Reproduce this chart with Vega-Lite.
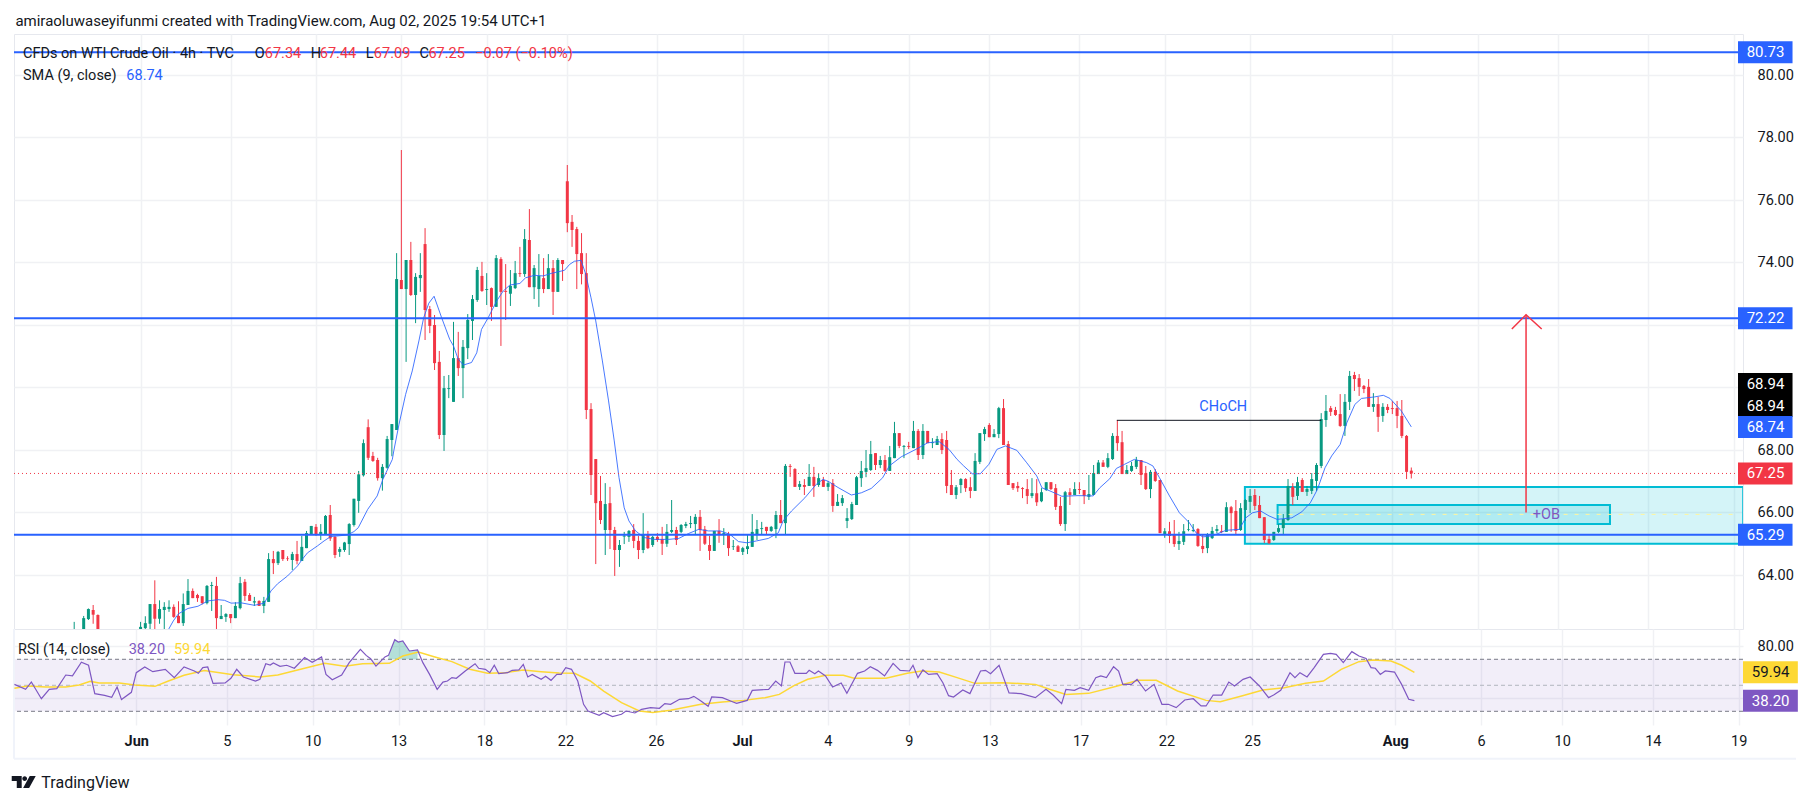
{
"$schema":"https://vega.github.io/schema/vega-lite/v6.json",
"background":"white",
"padding":{"left":11,"top":13,"right":5,"bottom":5},
"spacing":0,
"bounds":"flush",
"config":{"font":"Roboto","view":{"stroke":null},"axis":{"labelFont":"Roboto","labelFontSize":14.5,"labelColor":"#131722","gridColor":"#f0f1f4","gridWidth":1.5}},
"datasets":{
"bars":[
{"i":0,"o":61.6,"h":62.5,"l":61.4,"c":62.0},
{"i":2,"o":61.9,"h":62.69,"l":61.7,"c":62.62},
{"i":3,"o":62.59,"h":62.93,"l":62.56,"c":62.91},
{"i":4,"o":62.88,"h":63.04,"l":62.44,"c":62.73},
{"i":5,"o":62.72,"h":62.74,"l":62,"c":62.2},
{"i":14,"o":62.25,"h":62.5,"l":62.1,"c":62.34},
{"i":15,"o":62.3,"h":62.68,"l":62.2,"c":62.46},
{"i":16,"o":62.44,"h":63.07,"l":62.25,"c":63.07},
{"i":17,"o":63.07,"h":63.83,"l":62.2,"c":62.6},
{"i":18,"o":62.6,"h":63.19,"l":62.44,"c":62.91},
{"i":19,"o":62.88,"h":63.13,"l":62.2,"c":62.98},
{"i":20,"o":62.91,"h":63.19,"l":62.82,"c":62.98},
{"i":21,"o":62.98,"h":63.06,"l":62.63,"c":62.66},
{"i":22,"o":62.69,"h":63.16,"l":62.46,"c":62.46},
{"i":23,"o":62.46,"h":63.41,"l":62.37,"c":63.07},
{"i":24,"o":63.04,"h":63.87,"l":63.04,"c":63.49},
{"i":25,"o":63.49,"h":63.57,"l":63.26,"c":63.26},
{"i":26,"o":63.36,"h":63.4,"l":63.14,"c":63.26},
{"i":27,"o":63.32,"h":63.32,"l":63.06,"c":63.1},
{"i":28,"o":63.1,"h":63.68,"l":63.06,"c":63.65},
{"i":29,"o":63.65,"h":63.78,"l":62.85,"c":63.68},
{"i":30,"o":63.65,"h":63.94,"l":62.26,"c":62.62},
{"i":31,"o":62.59,"h":63.04,"l":62.59,"c":62.69},
{"i":32,"o":62.66,"h":62.78,"l":62.5,"c":62.75},
{"i":33,"o":62.75,"h":62.75,"l":62.46,"c":62.62},
{"i":34,"o":62.62,"h":63.13,"l":62.62,"c":63.01},
{"i":35,"o":62.94,"h":63.94,"l":62.9,"c":63.74},
{"i":36,"o":63.78,"h":63.87,"l":63.17,"c":63.33},
{"i":37,"o":63.36,"h":63.42,"l":63.17,"c":63.17},
{"i":38,"o":63.12,"h":63.3,"l":63.01,"c":63.16},
{"i":39,"o":63.17,"h":63.19,"l":63.01,"c":63.01},
{"i":40,"o":63.01,"h":63.3,"l":62.78,"c":63.17},
{"i":41,"o":63.14,"h":64.7,"l":63.14,"c":64.51},
{"i":42,"o":64.51,"h":64.77,"l":64.03,"c":64.38},
{"i":43,"o":64.38,"h":64.77,"l":64.32,"c":64.74},
{"i":44,"o":64.8,"h":64.8,"l":64.45,"c":64.51},
{"i":45,"o":64.53,"h":64.6,"l":64.45,"c":64.51},
{"i":46,"o":64.48,"h":64.74,"l":64.16,"c":64.67},
{"i":47,"o":64.67,"h":65.09,"l":64.34,"c":64.45},
{"i":48,"o":64.45,"h":65.25,"l":64.45,"c":64.9},
{"i":49,"o":64.86,"h":65.41,"l":64.86,"c":65.34},
{"i":50,"o":65.31,"h":65.57,"l":65.31,"c":65.57},
{"i":51,"o":65.54,"h":65.63,"l":65.25,"c":65.31},
{"i":52,"o":65.31,"h":65.63,"l":65.12,"c":65.38},
{"i":53,"o":65.31,"h":65.92,"l":65.31,"c":65.89},
{"i":54,"o":65.92,"h":66.24,"l":65.09,"c":65.17},
{"i":55,"o":65.22,"h":65.25,"l":64.54,"c":64.64},
{"i":56,"o":64.74,"h":64.9,"l":64.58,"c":64.83},
{"i":57,"o":64.8,"h":65.06,"l":64.74,"c":65.04},
{"i":58,"o":64.99,"h":65.66,"l":64.64,"c":65.63},
{"i":59,"o":65.6,"h":66.44,"l":65.55,"c":66.44},
{"i":60,"o":66.37,"h":67.33,"l":65.99,"c":67.22},
{"i":61,"o":67.19,"h":68.34,"l":67.15,"c":68.22},
{"i":62,"o":68.73,"h":68.98,"l":67.68,"c":67.75},
{"i":63,"o":67.81,"h":67.94,"l":67.62,"c":67.65},
{"i":64,"o":67.68,"h":67.75,"l":67.02,"c":67.1},
{"i":65,"o":67.1,"h":67.55,"l":66.7,"c":67.46},
{"i":66,"o":67.43,"h":68.45,"l":67.4,"c":68.35},
{"i":67,"o":68.32,"h":68.83,"l":67.8,"c":68.83},
{"i":68,"o":68.64,"h":74.3,"l":68.64,"c":73.47},
{"i":69,"o":73.44,"h":77.6,"l":73.15,"c":73.15},
{"i":70,"o":73.15,"h":74.08,"l":70.82,"c":74.08},
{"i":71,"o":74.08,"h":74.66,"l":72.93,"c":72.96},
{"i":72,"o":72.96,"h":73.66,"l":72.06,"c":73.54},
{"i":73,"o":73.5,"h":74.3,"l":73.06,"c":73.6},
{"i":74,"o":74.59,"h":75.1,"l":71.52,"c":72.48},
{"i":75,"o":72.51,"h":72.61,"l":71.74,"c":71.97},
{"i":76,"o":72,"h":72.32,"l":70.56,"c":70.78},
{"i":77,"o":70.82,"h":71.17,"l":68.35,"c":68.48},
{"i":78,"o":68.48,"h":70.37,"l":67.97,"c":69.98},
{"i":79,"o":69.95,"h":70.4,"l":69.66,"c":69.98},
{"i":80,"o":69.54,"h":72.1,"l":69.54,"c":70.94},
{"i":81,"o":70.94,"h":71.78,"l":70.37,"c":70.62},
{"i":82,"o":70.62,"h":71.52,"l":69.66,"c":71.3},
{"i":83,"o":71.26,"h":72.35,"l":70.91,"c":72.16},
{"i":84,"o":72.13,"h":72.96,"l":71.52,"c":72.83},
{"i":85,"o":72.8,"h":73.86,"l":72.74,"c":73.76},
{"i":86,"o":73.57,"h":74.02,"l":73.06,"c":73.09},
{"i":87,"o":73.12,"h":73.66,"l":72.64,"c":73.15},
{"i":88,"o":73.18,"h":73.2,"l":72.13,"c":72.58},
{"i":89,"o":72.58,"h":74.24,"l":72.58,"c":74.14},
{"i":90,"o":74.11,"h":74.17,"l":71.33,"c":73.06},
{"i":91,"o":73.09,"h":73.95,"l":72.16,"c":73.06},
{"i":92,"o":73,"h":73.76,"l":72.61,"c":73.25},
{"i":93,"o":73.18,"h":74.05,"l":73.15,"c":73.66},
{"i":94,"o":73.66,"h":74.5,"l":73.54,"c":73.63},
{"i":95,"o":73.63,"h":75.07,"l":73.54,"c":74.75},
{"i":96,"o":74.72,"h":75.71,"l":73.21,"c":73.21},
{"i":97,"o":73.21,"h":73.92,"l":72.83,"c":73.82},
{"i":98,"o":73.15,"h":74.27,"l":72.58,"c":73.57},
{"i":99,"o":73.5,"h":74.14,"l":73.02,"c":73.15},
{"i":100,"o":73.15,"h":74.27,"l":73.15,"c":73.82},
{"i":101,"o":73.82,"h":74.08,"l":72.32,"c":73.06},
{"i":102,"o":73.06,"h":74.14,"l":73.06,"c":74.08},
{"i":103,"o":74.08,"h":74.08,"l":73.41,"c":73.95},
{"i":104,"o":76.6,"h":77.12,"l":74.97,"c":75.26},
{"i":105,"o":75.3,"h":75.52,"l":74.5,"c":75.04},
{"i":106,"o":75.07,"h":75.14,"l":73.15,"c":74.27},
{"i":107,"o":74.3,"h":74.94,"l":73.3,"c":73.63},
{"i":108,"o":73.66,"h":74.3,"l":68.99,"c":69.28},
{"i":109,"o":69.31,"h":69.5,"l":66.56,"c":67.2},
{"i":110,"o":67.71,"h":67.71,"l":64.35,"c":66.3},
{"i":111,"o":66.37,"h":67.17,"l":65.63,"c":65.76},
{"i":112,"o":65.44,"h":66.94,"l":64.64,"c":66.27},
{"i":113,"o":66.3,"h":66.82,"l":64.83,"c":65.44},
{"i":114,"o":65.44,"h":65.54,"l":63.97,"c":64.8},
{"i":115,"o":64.8,"h":65.12,"l":64.26,"c":64.96},
{"i":116,"o":65.23,"h":65.38,"l":64.99,"c":65.26},
{"i":117,"o":65.22,"h":65.44,"l":65.06,"c":65.41},
{"i":118,"o":65.44,"h":65.63,"l":64.86,"c":65.09},
{"i":119,"o":65.09,"h":65.25,"l":64.51,"c":64.8},
{"i":120,"o":64.8,"h":65.98,"l":64.7,"c":65.28},
{"i":121,"o":65.28,"h":65.41,"l":64.83,"c":64.86},
{"i":122,"o":64.96,"h":65.25,"l":64.9,"c":65.22},
{"i":123,"o":65.22,"h":65.34,"l":65.06,"c":65.12},
{"i":124,"o":65.15,"h":65.54,"l":64.64,"c":65},
{"i":125,"o":65,"h":65.63,"l":64.9,"c":65.38},
{"i":126,"o":65.38,"h":66.4,"l":65.34,"c":65.44},
{"i":127,"o":65.44,"h":65.54,"l":64.96,"c":65.12},
{"i":128,"o":65.38,"h":65.63,"l":65.34,"c":65.6},
{"i":129,"o":65.57,"h":65.7,"l":65.5,"c":65.63},
{"i":130,"o":65.63,"h":65.89,"l":65.5,"c":65.66},
{"i":131,"o":65.63,"h":65.95,"l":65.31,"c":65.86},
{"i":132,"o":65.86,"h":66.08,"l":64.77,"c":65.44},
{"i":133,"o":65.46,"h":65.57,"l":64.96,"c":65},
{"i":134,"o":64.96,"h":65.25,"l":64.48,"c":64.77},
{"i":135,"o":64.77,"h":65.41,"l":64.77,"c":65.41},
{"i":136,"o":65.41,"h":65.79,"l":65.03,"c":65.28},
{"i":137,"o":65.31,"h":65.5,"l":64.96,"c":65.34},
{"i":138,"o":65.31,"h":65.38,"l":64.61,"c":64.86},
{"i":139,"o":64.9,"h":65.12,"l":64.8,"c":64.92},
{"i":140,"o":64.92,"h":64.96,"l":64.74,"c":64.74},
{"i":141,"o":64.74,"h":64.9,"l":64.64,"c":64.86},
{"i":142,"o":64.83,"h":65.28,"l":64.67,"c":64.92},
{"i":143,"o":64.9,"h":65.95,"l":64.9,"c":65.38},
{"i":144,"o":65.28,"h":65.76,"l":65.12,"c":65.47},
{"i":145,"o":65.47,"h":65.7,"l":65.28,"c":65.5},
{"i":146,"o":65.54,"h":65.54,"l":65.31,"c":65.41},
{"i":147,"o":65.41,"h":65.57,"l":65.38,"c":65.54},
{"i":148,"o":65.47,"h":66.05,"l":65.18,"c":65.92},
{"i":149,"o":65.92,"h":66.4,"l":65.66,"c":65.66},
{"i":150,"o":65.66,"h":67.55,"l":65.31,"c":67.49},
{"i":151,"o":67.49,"h":67.55,"l":67.14,"c":67.46},
{"i":152,"o":67.39,"h":67.42,"l":66.82,"c":66.82},
{"i":153,"o":66.82,"h":67.01,"l":66.72,"c":66.91},
{"i":154,"o":66.88,"h":67.07,"l":66.56,"c":66.82},
{"i":155,"o":66.85,"h":67.55,"l":66.85,"c":67.14},
{"i":156,"o":67.14,"h":67.46,"l":66.5,"c":66.85},
{"i":157,"o":66.88,"h":67.26,"l":66.82,"c":67.1},
{"i":158,"o":67.04,"h":67.14,"l":66.82,"c":66.82},
{"i":159,"o":66.82,"h":67.01,"l":66.69,"c":66.94},
{"i":160,"o":66.94,"h":67.07,"l":66.02,"c":66.21},
{"i":161,"o":66.21,"h":66.59,"l":66.21,"c":66.34},
{"i":162,"o":66.3,"h":66.56,"l":66.21,"c":66.46},
{"i":163,"o":65.73,"h":66.14,"l":65.5,"c":65.82},
{"i":164,"o":65.79,"h":66.34,"l":65.76,"c":66.27},
{"i":165,"o":66.24,"h":67.17,"l":66.24,"c":67.13},
{"i":166,"o":67.1,"h":67.65,"l":66.82,"c":67.33},
{"i":167,"o":67.3,"h":68,"l":67.13,"c":67.42},
{"i":168,"o":67.36,"h":68.29,"l":67.33,"c":67.87},
{"i":169,"o":67.9,"h":67.9,"l":67.36,"c":67.52},
{"i":170,"o":67.52,"h":67.81,"l":67.42,"c":67.68},
{"i":171,"o":67.68,"h":67.84,"l":67.3,"c":67.33},
{"i":172,"o":67.33,"h":68.13,"l":67.33,"c":67.77},
{"i":173,"o":67.74,"h":68.9,"l":67.74,"c":68.54},
{"i":174,"o":68.54,"h":68.54,"l":68.06,"c":68.13},
{"i":175,"o":68.1,"h":68.16,"l":67.74,"c":68.13},
{"i":176,"o":68.13,"h":68.26,"l":68.03,"c":68.1},
{"i":177,"o":68.06,"h":68.93,"l":68.06,"c":68.61},
{"i":178,"o":68.61,"h":68.67,"l":67.68,"c":67.84},
{"i":179,"o":67.84,"h":68.83,"l":67.71,"c":68.61},
{"i":180,"o":68.61,"h":68.61,"l":68.22,"c":68.22},
{"i":181,"o":68.22,"h":68.38,"l":68.06,"c":68.25},
{"i":182,"o":68.16,"h":68.45,"l":68.16,"c":68.35},
{"i":183,"o":68.35,"h":68.54,"l":67.87,"c":68},
{"i":184,"o":68.32,"h":68.61,"l":66.62,"c":66.85},
{"i":185,"o":66.88,"h":67.36,"l":66.56,"c":66.56},
{"i":186,"o":66.56,"h":66.88,"l":66.43,"c":66.81},
{"i":187,"o":66.88,"h":67.1,"l":66.62,"c":67.07},
{"i":188,"o":67.07,"h":67.1,"l":66.66,"c":66.78},
{"i":189,"o":66.81,"h":67.13,"l":66.46,"c":66.69},
{"i":190,"o":66.69,"h":67.9,"l":66.69,"c":67.65},
{"i":191,"o":67.62,"h":68.54,"l":67.55,"c":68.54},
{"i":192,"o":68.51,"h":68.74,"l":68.29,"c":68.67},
{"i":193,"o":68.8,"h":68.86,"l":68.41,"c":68.41},
{"i":194,"o":68.41,"h":68.67,"l":68.41,"c":68.51},
{"i":195,"o":68.51,"h":69.38,"l":68.38,"c":69.34},
{"i":196,"o":69.34,"h":69.63,"l":68.16,"c":68.16},
{"i":197,"o":68.19,"h":68.29,"l":66.88,"c":66.88},
{"i":198,"o":66.94,"h":66.94,"l":66.72,"c":66.78},
{"i":199,"o":66.85,"h":66.98,"l":66.66,"c":66.78},
{"i":200,"o":66.78,"h":66.81,"l":66.46,"c":66.75},
{"i":201,"o":66.75,"h":67.07,"l":66.27,"c":66.53},
{"i":202,"o":66.53,"h":67.1,"l":66.46,"c":66.62},
{"i":203,"o":66.62,"h":67.07,"l":66.21,"c":66.33},
{"i":204,"o":66.36,"h":66.78,"l":66.33,"c":66.65},
{"i":205,"o":66.72,"h":66.97,"l":66.69,"c":66.97},
{"i":206,"o":66.97,"h":66.97,"l":66.72,"c":66.75},
{"i":207,"o":66.78,"h":66.91,"l":66.08,"c":66.18},
{"i":208,"o":66.21,"h":66.5,"l":65.57,"c":65.63},
{"i":209,"o":65.63,"h":66.69,"l":65.41,"c":66.65},
{"i":210,"o":66.65,"h":66.78,"l":66.24,"c":66.56},
{"i":211,"o":66.56,"h":66.97,"l":66.56,"c":66.75},
{"i":212,"o":66.75,"h":66.97,"l":66.59,"c":66.72},
{"i":213,"o":66.72,"h":66.72,"l":66.27,"c":66.53},
{"i":214,"o":66.5,"h":67.2,"l":66.4,"c":66.59},
{"i":215,"o":66.56,"h":67.52,"l":66.56,"c":67.26},
{"i":216,"o":67.23,"h":67.68,"l":67.23,"c":67.6},
{"i":217,"o":67.6,"h":67.68,"l":67.46,"c":67.46},
{"i":218,"o":67.46,"h":67.9,"l":67.42,"c":67.74},
{"i":219,"o":67.71,"h":68.54,"l":67.68,"c":68.45},
{"i":220,"o":68.45,"h":68.96,"l":67.97,"c":68.22},
{"i":221,"o":68.25,"h":68.61,"l":67.23,"c":67.23},
{"i":222,"o":67.23,"h":67.52,"l":67.23,"c":67.36},
{"i":223,"o":67.33,"h":67.62,"l":67.3,"c":67.49},
{"i":224,"o":67.46,"h":67.78,"l":67.39,"c":67.68},
{"i":225,"o":67.68,"h":67.68,"l":66.88,"c":67.2},
{"i":226,"o":67.26,"h":67.49,"l":66.72,"c":66.75},
{"i":227,"o":66.75,"h":67.36,"l":66.46,"c":67.3},
{"i":228,"o":67.3,"h":67.39,"l":66.98,"c":67.01},
{"i":229,"o":67.04,"h":67.04,"l":65.34,"c":65.34},
{"i":230,"o":65.31,"h":65.5,"l":65.19,"c":65.4},
{"i":231,"o":65.4,"h":65.7,"l":65.02,"c":65.25},
{"i":232,"o":65.28,"h":65.76,"l":64.9,"c":64.99},
{"i":233,"o":64.99,"h":65.38,"l":64.8,"c":65.09},
{"i":234,"o":65.06,"h":65.63,"l":64.96,"c":65.4},
{"i":235,"o":65.44,"h":65.76,"l":65.4,"c":65.46},
{"i":236,"o":65.41,"h":65.63,"l":65.37,"c":65.44},
{"i":237,"o":65.47,"h":65.5,"l":64.9,"c":64.93},
{"i":238,"o":64.93,"h":65.28,"l":64.7,"c":64.83},
{"i":239,"o":64.86,"h":65.34,"l":64.7,"c":65.31},
{"i":240,"o":65.18,"h":65.54,"l":65.15,"c":65.41},
{"i":241,"o":65.41,"h":65.6,"l":65.34,"c":65.47},
{"i":242,"o":65.41,"h":65.6,"l":65.34,"c":65.38},
{"i":243,"o":65.38,"h":66.33,"l":65.38,"c":66.17},
{"i":244,"o":66.17,"h":66.21,"l":65.38,"c":65.98},
{"i":245,"o":66.05,"h":66.4,"l":65.28,"c":65.41},
{"i":246,"o":65.44,"h":66.3,"l":65.41,"c":66.14},
{"i":247,"o":66.08,"h":66.43,"l":65.73,"c":66.4},
{"i":248,"o":66.34,"h":66.75,"l":65.98,"c":66.53},
{"i":249,"o":66.56,"h":66.75,"l":66.08,"c":66.21},
{"i":250,"o":66.24,"h":66.53,"l":65.82,"c":65.82},
{"i":251,"o":65.85,"h":65.85,"l":65.02,"c":65.12},
{"i":252,"o":65.15,"h":65.28,"l":64.99,"c":65.02},
{"i":253,"o":65.12,"h":65.38,"l":65.09,"c":65.38},
{"i":254,"o":65.38,"h":65.63,"l":65.34,"c":65.5},
{"i":255,"o":65.5,"h":65.95,"l":65.28,"c":65.79},
{"i":256,"o":65.76,"h":67.07,"l":65.73,"c":66.85},
{"i":257,"o":66.82,"h":66.94,"l":66.24,"c":66.5},
{"i":258,"o":66.53,"h":67.14,"l":66.4,"c":66.97},
{"i":259,"o":67.04,"h":67.1,"l":66.66,"c":66.66},
{"i":260,"o":66.66,"h":66.85,"l":66.53,"c":66.75},
{"i":261,"o":66.69,"h":67.26,"l":66.59,"c":67.07},
{"i":262,"o":67.01,"h":67.58,"l":66.69,"c":67.52},
{"i":263,"o":67.49,"h":69.18,"l":67.42,"c":68.99},
{"i":264,"o":68.96,"h":69.76,"l":68.74,"c":69.25},
{"i":265,"o":69.34,"h":69.41,"l":69.09,"c":69.22},
{"i":266,"o":69.28,"h":69.38,"l":69.09,"c":69.12},
{"i":267,"o":69.15,"h":69.79,"l":68.74,"c":68.77},
{"i":268,"o":68.77,"h":69.79,"l":68.45,"c":69.54},
{"i":269,"o":69.54,"h":70.53,"l":69.28,"c":70.37},
{"i":270,"o":70.4,"h":70.5,"l":69.89,"c":70.27},
{"i":271,"o":70.3,"h":70.43,"l":69.73,"c":70.02},
{"i":272,"o":70.05,"h":70.08,"l":69.82,"c":69.95},
{"i":273,"o":70.02,"h":70.27,"l":69.38,"c":69.38},
{"i":274,"o":69.38,"h":69.82,"l":69.22,"c":69.47},
{"i":275,"o":69.47,"h":69.7,"l":68.58,"c":69.06},
{"i":276,"o":69.09,"h":69.5,"l":68.9,"c":69.38},
{"i":277,"o":69.38,"h":69.47,"l":69.18,"c":69.28},
{"i":278,"o":69.34,"h":69.57,"l":69.15,"c":69.31},
{"i":279,"o":69.34,"h":69.57,"l":68.7,"c":69.09},
{"i":280,"o":69.09,"h":69.6,"l":68.38,"c":68.45},
{"i":281,"o":68.45,"h":68.48,"l":67.07,"c":67.3},
{"i":282,"o":67.34,"h":67.44,"l":67.09,"c":67.25}
],
"sma":[
{"i":19.9,"v":62.26},{"i":20.9,"v":62.53},{"i":22,"v":62.76},{"i":24,"v":62.93},{"i":26.1,"v":63},{"i":28.2,"v":63.17},{"i":30.3,"v":63.21},{"i":31.7,"v":63.19},{"i":33.1,"v":63.1},{"i":35.2,"v":63.11},{"i":38,"v":63.03},{"i":40.1,"v":63.1},{"i":41.5,"v":63.49},{"i":42.9,"v":63.72},{"i":45,"v":63.97},{"i":47.1,"v":64.29},{"i":48.1,"v":64.5},{"i":49.2,"v":64.71},{"i":51.3,"v":64.93},{"i":52.7,"v":65.09},{"i":54.1,"v":65.23},{"i":57.6,"v":65.28},{"i":59,"v":65.39},{"i":59.9,"v":65.51},{"i":61.9,"v":66.1},{"i":63.9,"v":66.53},{"i":65.1,"v":67.06},{"i":67.1,"v":67.7},{"i":67.4,"v":67.97},{"i":68.5,"v":68.82},{"i":69.9,"v":69.78},{"i":71.3,"v":70.53},{"i":72.7,"v":71.49},{"i":73.7,"v":72.23},{"i":74.8,"v":72.7},{"i":75.9,"v":72.92},{"i":77.5,"v":72.23},{"i":79.2,"v":71.54},{"i":80,"v":71.33},{"i":81,"v":70.9},{"i":82.1,"v":70.72},{"i":83.8,"v":70.8},{"i":84.9,"v":71.11},{"i":85.9,"v":71.86},{"i":87.3,"v":72.23},{"i":89.1,"v":72.77},{"i":90.5,"v":73.09},{"i":91.9,"v":73.28},{"i":94,"v":73.33},{"i":95.2,"v":73.51},{"i":97.1,"v":73.59},{"i":98.9,"v":73.57},{"i":100.6,"v":73.65},{"i":103.4,"v":73.75},{"i":104.5,"v":73.94},{"i":105.5,"v":74.04},{"i":106.9,"v":74.07},{"i":107.9,"v":73.62},{"i":109,"v":72.87},{"i":110,"v":72.13},{"i":111.4,"v":70.85},{"i":112.7,"v":69.57},{"i":113.9,"v":68.29},{"i":114.9,"v":67.12},{"i":116,"v":66.15},{"i":117,"v":65.73},{"i":118.4,"v":65.41},{"i":120.2,"v":65.2},{"i":122.3,"v":65.14},{"i":125.4,"v":65.14},{"i":127.5,"v":65.17},{"i":129.6,"v":65.33},{"i":131.7,"v":65.46},{"i":133.8,"v":65.41},{"i":136.3,"v":65.41},{"i":138.3,"v":65.3},{"i":140.1,"v":65.07},{"i":141.9,"v":65.03},{"i":143.9,"v":65.09},{"i":146.4,"v":65.17},{"i":148.5,"v":65.35},{"i":149.5,"v":65.73},{"i":151.3,"v":66.05},{"i":154.1,"v":66.47},{"i":156.5,"v":66.9},{"i":157.9,"v":67.06},{"i":159,"v":67},{"i":161.1,"v":66.8},{"i":163.9,"v":66.56},{"i":166,"v":66.63},{"i":168.1,"v":66.77},{"i":170.5,"v":67.11},{"i":171.9,"v":67.49},{"i":174.4,"v":67.78},{"i":177.5,"v":68.02},{"i":180,"v":68.23},{"i":182.4,"v":68.27},{"i":184.5,"v":68.02},{"i":186.2,"v":67.7},{"i":187.6,"v":67.49},{"i":189.4,"v":67.24},{"i":191.1,"v":67.24},{"i":192.9,"v":67.54},{"i":194.6,"v":68.02},{"i":196.4,"v":68.13},{"i":198.8,"v":67.99},{"i":200.9,"v":67.59},{"i":203,"v":67.17},{"i":204.1,"v":66.79},{"i":205.8,"v":66.69},{"i":208.3,"v":66.52},{"i":211.7,"v":66.54},{"i":214.9,"v":66.53},{"i":216.3,"v":66.79},{"i":218.4,"v":67.08},{"i":219.8,"v":67.41},{"i":221.5,"v":67.54},{"i":223.6,"v":67.7},{"i":226.1,"v":67.6},{"i":227.5,"v":67.49},{"i":228.9,"v":67.11},{"i":231,"v":66.53},{"i":233.1,"v":65.99},{"i":235.2,"v":65.67},{"i":236.6,"v":65.35},{"i":238,"v":65.22},{"i":240,"v":65.25},{"i":242.9,"v":65.43},{"i":245.7,"v":65.46},{"i":247.1,"v":65.83},{"i":248.5,"v":65.99},{"i":250.2,"v":66.05},{"i":252,"v":65.89},{"i":253.7,"v":65.78},{"i":256.8,"v":65.83},{"i":258.9,"v":66.02},{"i":260.7,"v":66.31},{"i":262.2,"v":66.74},{"i":263.8,"v":67.43},{"i":265.2,"v":67.81},{"i":267,"v":68.18},{"i":268.4,"v":68.87},{"i":270.1,"v":69.46},{"i":271.5,"v":69.65},{"i":274.3,"v":69.7},{"i":276.1,"v":69.75},{"i":277.5,"v":69.65},{"i":279.9,"v":69.25},{"i":282,"v":68.74}
],
"rsi":[
{"i":-11.55,"v":50.7},{"i":-9.21,"v":46.9},{"i":-8,"v":52.5},{"i":-5.9,"v":39.7},{"i":-4.25,"v":46.9},{"i":-2.66,"v":47.4},{"i":-0.79,"v":57.9},{"i":0.62,"v":57.2},{"i":2.49,"v":67.7},{"i":3.99,"v":65.4},{"i":5.3,"v":43.6},{"i":7.36,"v":42.3},{"i":8.85,"v":40.7},{"i":9.98,"v":48.7},{"i":10.9,"v":39},{"i":12.97,"v":44.6},{"i":14,"v":59.7},{"i":15.78,"v":64.1},{"i":17.46,"v":60.5},{"i":20.08,"v":62.3},{"i":21.96,"v":55.9},{"i":24.02,"v":64.1},{"i":26.17,"v":61},{"i":27.01,"v":59.2},{"i":27.95,"v":63.6},{"i":28.98,"v":64.1},{"i":30.1,"v":51.5},{"i":32.63,"v":51.8},{"i":33.84,"v":55.4},{"i":35.06,"v":62.3},{"i":36.46,"v":56.4},{"i":38.99,"v":53.3},{"i":39.93,"v":54.6},{"i":41.15,"v":66.6},{"i":42.08,"v":65.6},{"i":42.74,"v":67.2},{"i":44.14,"v":64.6},{"i":45.54,"v":65.4},{"i":47.14,"v":63.1},{"i":49.29,"v":71.3},{"i":50.88,"v":67.7},{"i":52.85,"v":71.8},{"i":53.78,"v":58.4},{"i":55.09,"v":54.3},{"i":57.06,"v":57.9},{"i":58.65,"v":67.4},{"i":60.99,"v":77.7},{"i":62.2,"v":73},{"i":63.14,"v":70.5},{"i":64.26,"v":64.8},{"i":66.14,"v":71.8},{"i":66.88,"v":73},{"i":68.2,"v":85.1},{"i":68.94,"v":83.3},{"i":69.88,"v":84.1},{"i":71.28,"v":76.4},{"i":72.97,"v":77.2},{"i":74.09,"v":67.4},{"i":75.5,"v":58.4},{"i":77.09,"v":46.9},{"i":78.3,"v":52.5},{"i":79.24,"v":53.3},{"i":80.18,"v":55.9},{"i":81.11,"v":55.4},{"i":82.98,"v":61},{"i":85.04,"v":66.6},{"i":85.79,"v":63.1},{"i":87.2,"v":62.3},{"i":88.13,"v":59.7},{"i":89.07,"v":65.4},{"i":90,"v":59},{"i":91.88,"v":59.7},{"i":92.81,"v":61.5},{"i":94.22,"v":61.8},{"i":95.15,"v":66.1},{"i":96.09,"v":56.4},{"i":97.02,"v":58.4},{"i":98.9,"v":54.6},{"i":99.83,"v":56.9},{"i":100.96,"v":53.8},{"i":102.17,"v":58.4},{"i":103.11,"v":58.4},{"i":104.05,"v":63.6},{"i":105.26,"v":62.3},{"i":106.57,"v":53.3},{"i":107.79,"v":35.4},{"i":108.72,"v":30.2},{"i":111.06,"v":26.9},{"i":112,"v":28.9},{"i":113.87,"v":25.9},{"i":115.74,"v":27.7},{"i":116.68,"v":30.2},{"i":118.55,"v":28.7},{"i":119.96,"v":31.5},{"i":121.83,"v":32.8},{"i":123.7,"v":32.3},{"i":124.82,"v":35.9},{"i":126.04,"v":35.4},{"i":127.91,"v":39.2},{"i":129.78,"v":39.7},{"i":130.91,"v":41.5},{"i":132.4,"v":37.9},
{"i":133.91,"v":33.8},{"i":134.66,"v":41},{"i":136.89,"v":40.5},{"i":139.13,"v":37.2},{"i":139.88,"v":36.1},{"i":142.11,"v":38.4},{"i":143.16,"v":46.1},{"i":146.59,"v":46.9},{"i":148.08,"v":53.3},{"i":149.27,"v":49.5},{"i":150.02,"v":67.9},{"i":151.06,"v":67.9},{"i":152.1,"v":59.2},{"i":154.49,"v":59.2},{"i":155.09,"v":61.5},{"i":156.28,"v":58.9},{"i":157.03,"v":61},{"i":158.52,"v":57.2},{"i":160.01,"v":48.7},{"i":161.8,"v":51.8},{"i":163,"v":43.8},{"i":165.23,"v":59.2},{"i":166.72,"v":61},{"i":167.92,"v":64.3},{"i":169.41,"v":61.5},{"i":170.9,"v":57.2},{"i":172.69,"v":66.9},{"i":174.18,"v":61.5},{"i":176.12,"v":61},{"i":176.86,"v":65.4},{"i":177.91,"v":55.9},{"i":178.95,"v":61.8},{"i":180.14,"v":58.4},{"i":181.93,"v":58.9},{"i":183.13,"v":52},{"i":184.32,"v":42},{"i":185.36,"v":41},{"i":187.3,"v":46.4},{"i":188.8,"v":43.6},{"i":191.03,"v":61},{"i":192.08,"v":61.5},{"i":193.12,"v":58.9},{"i":194.91,"v":65.4},{"i":197,"v":44.1},{"i":199.53,"v":43.6},{"i":202.52,"v":40.5},{"i":204.75,"v":46.9},{"i":206.24,"v":42.5},{"i":208.03,"v":35.9},{"i":208.93,"v":46.9},{"i":210.72,"v":46.1},{"i":211.91,"v":48.2},{"i":213.7,"v":46.1},{"i":215.19,"v":55.9},{"i":216.24,"v":57.2},{"i":217.43,"v":55.9},{"i":218.92,"v":64.3},{"i":219.97,"v":61},{"i":220.86,"v":50.7},{"i":222.65,"v":50.7},{"i":223.84,"v":54.6},{"i":225.63,"v":45.6},{"i":227.42,"v":50.7},{"i":229.06,"v":35.4},{"i":230.4,"v":35.4},{"i":232.05,"v":32.8},{"i":233.84,"v":38.7},{"i":235.63,"v":39.7},{"i":237.27,"v":34.1},{"i":238.31,"v":34.1},{"i":239.8,"v":42.5},{"i":241.59,"v":42.5},{"i":243.08,"v":52.5},{"i":244.28,"v":49.5},{"i":246.07,"v":54.6},{"i":247.56,"v":56.4},{"i":249.5,"v":49.5},{"i":251.43,"v":40.5},{"i":252.48,"v":42.5},{"i":253.97,"v":46.1},{"i":255.91,"v":59.7},{"i":256.95,"v":55.9},{"i":258,"v":59.7},{"i":259.49,"v":56.4},{"i":260.98,"v":63.6},{"i":262.92,"v":73.8},{"i":264.41,"v":74.6},{"i":265.6,"v":73.8},{"i":267.09,"v":67.4},{"i":268.88,"v":75.9},{"i":270.37,"v":72.5},{"i":271.87,"v":70.7},{"i":272.91,"v":63.6},{"i":273.81,"v":63.1},{"i":274.85,"v":58.4},{"i":275.89,"v":61},{"i":277.83,"v":60.2},{"i":279.32,"v":50.7},{"i":280.81,"v":39.2},{"i":282,"v":38.2}
],
"rsiMa":[
{"i":-11.55,"v":47.7},{"i":-8.74,"v":49.5},{"i":-5,"v":48.7},{"i":-0.79,"v":48.7},{"i":2.02,"v":50.2},{"i":4.36,"v":53},{"i":6.23,"v":51.8},{"i":10.44,"v":51.8},{"i":13.72,"v":50.2},{"i":17.93,"v":49.2},{"i":20.74,"v":53.3},{"i":24.02,"v":57.7},{"i":28.23,"v":61.3},{"i":31.5,"v":59.7},{"i":34.31,"v":58.2},{"i":37.12,"v":57.4},{"i":39.93,"v":56.4},{"i":43.67,"v":57.9},{"i":49.29,"v":63.1},{"i":53.5,"v":66.9},{"i":57.71,"v":64.6},{"i":61.46,"v":66.6},{"i":67.07,"v":66.9},{"i":69.88,"v":72.5},{"i":73.16,"v":75.6},{"i":76.43,"v":72},{"i":80.18,"v":68.2},{"i":83.92,"v":62.3},{"i":87.66,"v":59.2},{"i":91.41,"v":59.7},{"i":95.15,"v":61.8},{"i":98.9,"v":60.5},{"i":102.64,"v":59.5},{"i":105.92,"v":59.2},{"i":109.19,"v":53.3},{"i":112,"v":45.6},{"i":115.74,"v":36.6},{"i":119.49,"v":30.2},{"i":122.3,"v":29},{"i":126.04,"v":30.8},{"i":132.4,"v":35.4},{"i":136.89,"v":37.2},{"i":141.37,"v":38.4},{"i":145.84,"v":40.5},{"i":148.83,"v":43},{"i":151.81,"v":49.5},{"i":154.79,"v":54.6},{"i":158.52,"v":57.7},{"i":162.25,"v":57.7},{"i":164.49,"v":55.4},{"i":171.2,"v":55.4},{"i":175.67,"v":59.2},{"i":178.65,"v":61},{"i":182.38,"v":60.2},{"i":186.11,"v":55.9},{"i":189.84,"v":51.5},{"i":195.8,"v":52},{"i":202.52,"v":50.7},{"i":205.5,"v":46.9},{"i":208.93,"v":43},{"i":213.7,"v":43.8},{"i":218.92,"v":48.7},{"i":224.14,"v":53.8},{"i":227.87,"v":53.8},{"i":232.34,"v":45.6},{"i":238.31,"v":38.4},{"i":241.29,"v":37.4},{"i":245.77,"v":41.8},{"i":250.24,"v":46.4},{"i":254.71,"v":48.2},{"i":259.19,"v":51.5},{"i":262.92,"v":53.3},{"i":266.65,"v":62.3},{"i":270.37,"v":68.2},{"i":273.36,"v":69.5},{"i":277.09,"v":68.7},{"i":279.32,"v":65.4},{"i":282,"v":59.94}
],
"levels":[{"p":80.73},{"p":72.22},{"p":65.29}],
"boxes":[{"a":246.9,"b":352,"lo":65,"hi":66.82},{"a":253.8,"b":323.9,"lo":65.63,"hi":66.24}],
"choch":[{"a":219.9,"b":263,"p":68.95}],
"mid":[{"a":253.8,"b":350.9,"p":65.94}],
"arrow":[
{"seg":"shaft","n":1,"i":306.2,"p":66},{"seg":"shaft","n":2,"i":306.2,"p":72.33},
{"seg":"head","n":1,"i":303.2,"p":71.87},{"seg":"head","n":2,"i":306.2,"p":72.33},{"seg":"head","n":3,"i":309.5,"p":71.87}
],
"priceHead":[
{"x":-12.4,"y":81.73,"t":"amiraoluwaseyifunmi created with TradingView.com, Aug 02, 2025 19:54 UTC+1"}
],
"priceText":[
{"x":-10.8,"y":80.67,"t":"CFDs on WTI Crude Oil · 4h · TVC","tone":"ink"},
{"x":38.1,"y":80.67,"t":"O","tone":"ink"},{"x":40.2,"y":80.67,"t":"67.34","tone":"red"},
{"x":49.9,"y":80.67,"t":"H","tone":"ink"},{"x":51.8,"y":80.67,"t":"67.44","tone":"red"},
{"x":61.5,"y":80.67,"t":"L","tone":"ink"},{"x":63.2,"y":80.67,"t":"67.09","tone":"red"},
{"x":72.8,"y":80.67,"t":"C","tone":"ink"},{"x":74.7,"y":80.67,"t":"67.25","tone":"red"},
{"x":84.6,"y":80.67,"t":"−0.07 (−0.10%)","tone":"red"},
{"x":-10.8,"y":79.97,"t":"SMA (9, close)","tone":"ink"},{"x":11,"y":79.97,"t":"68.74","tone":"blue"},
{"x":237.3,"y":69.39,"t":"CHoCH","tone":"blue"},
{"x":307.6,"y":65.92,"t":"+OB","tone":"purple"}
],
"priceTags":[
{"a":350.9,"b":362.4,"mid":356.7,"pos":80.73,"label":"80.73","kind":"blue"},{"a":350.9,"b":362.4,"mid":356.7,"pos":72.22,"label":"72.22","kind":"blue"},
{"a":350.9,"b":362.4,"mid":356.7,"pos":70.11,"label":"68.94","kind":"black"},{"a":350.9,"b":362.4,"mid":356.7,"pos":69.41,"label":"68.94","kind":"black"},
{"a":350.9,"b":362.4,"mid":356.7,"pos":68.74,"label":"68.74","kind":"blue"},{"a":350.9,"b":362.4,"mid":356.7,"pos":67.25,"label":"67.25","kind":"red"},{"a":350.9,"b":362.4,"mid":356.7,"pos":65.29,"label":"65.29","kind":"blue"}
],
"rsiText":[
{"x":-10.8,"y":77.15,"t":"RSI (14, close)","tone":"ink"},
{"x":12.41,"y":77.15,"t":"38.20","tone":"purple"},
{"x":21.9,"y":77.15,"t":"59.94","tone":"gold"}
],
"brand":[{"x":-5.9,"y":-24.9,"t":"TradingView"}],
"logo":[{"x":-9.6,"y":-24.4}],
"band":[{"lo":30,"hi":70}],
"bandLines":[{"v":70},{"v":50},{"v":30}],
"frameBottom":[{"a":-11.64,"b":362,"v":-6.5}],
"frameLeft":[{"a":-11.64,"lo":-6.5,"hi":93.3}],
"rsiTags":[{"a":350.9,"b":362.4,"mid":356.7,"pos":59.94,"label":"59.94","kind":"gold"},{"a":350.9,"b":362.4,"mid":356.7,"pos":38.2,"label":"38.20","kind":"purple"}]
},
"vconcat":[
{
"width":1729,"height":595,
"view":{"stroke":"#e6e8ee"},
"encoding":{
"x":{"field":"i","type":"quantitative","scale":{"domain":[-11.64,350.9],"nice":false,"zero":false},
"axis":{"values":[14,33,51,69,87,104,123,141,159,176,193,212,230,248,278,296,313,332,350],"labels":false,"ticks":false,"domain":false,"grid":true,"title":null}}
},
"layer":[
{"data":{"name":"boxes"},"mark":{"type":"rect","clip":true,"fill":"#00bcd4","fillOpacity":0.17,"stroke":"#00bcd4","strokeWidth":2},
"encoding":{"x":{"field":"a","type":"quantitative"},"x2":{"field":"b"},"y":{"field":"lo","type":"quantitative"},"y2":{"field":"hi"}}},
{"data":{"name":"bars"},"mark":{"type":"rule","clip":true,"strokeWidth":1},
"encoding":{"y":{"field":"l","type":"quantitative","scale":{"domain":[62.272,81.312],"nice":false,"zero":false},
"axis":{"orient":"right","values":[64,66,68,70,72,74,76,78,80],"title":null,"grid":true,"ticks":false,"domain":false,"offset":12,"labelExpr":"datum.value==70||datum.value==72?'':format(datum.value,'.2f')"}},
"y2":{"field":"h"},"color":{"condition":{"test":"datum.c>=datum.o","value":"#089981"},"value":"#f23645"}}},
{"data":{"name":"bars"},"mark":{"type":"bar","clip":true,"orient":"vertical","width":3},
"encoding":{"y":{"field":"o","type":"quantitative"},"y2":{"field":"c"},"color":{"condition":{"test":"datum.c>=datum.o","value":"#089981"},"value":"#f23645"}}},
{"data":{"name":"sma"},"mark":{"type":"line","clip":true,"color":"#2962ff","strokeWidth":1,"opacity":0.85},
"encoding":{"y":{"field":"v","type":"quantitative"}}},
{"data":{"name":"levels"},"mark":{"type":"rule","color":"#2962ff","strokeWidth":2},
"encoding":{"x":{},"y":{"field":"p","type":"quantitative"}}},
{"data":{"values":[{"p":67.25}]},"mark":{"type":"rule","color":"#f23645","strokeWidth":1,"strokeDash":[1,3]},
"encoding":{"x":{},"y":{"field":"p","type":"quantitative"}}},
{"data":{"name":"choch"},"mark":{"type":"rule","color":"#131722","strokeWidth":1},
"encoding":{"x":{"field":"a","type":"quantitative"},"x2":{"field":"b"},"y":{"field":"p","type":"quantitative"}}},
{"data":{"name":"mid"},"mark":{"type":"rule","color":"#fff59d","strokeWidth":1,"strokeDash":[4,7]},
"encoding":{"x":{"field":"a","type":"quantitative"},"x2":{"field":"b"},"y":{"field":"p","type":"quantitative"}}},
{"data":{"name":"arrow"},"mark":{"type":"line","color":"#f23645","strokeWidth":1.5},
"encoding":{"y":{"field":"p","type":"quantitative"},"detail":{"field":"seg"},"order":{"field":"n"}}},
{"data":{"name":"priceHead"},"mark":{"type":"text","align":"left","baseline":"middle","fontSize":15,"color":"#131722"},
"encoding":{"x":{"field":"x","type":"quantitative"},"y":{"field":"y","type":"quantitative"},"text":{"field":"t"}}},
{"data":{"name":"priceText"},"mark":{"type":"text","align":"left","baseline":"middle","fontSize":14.5},
"encoding":{"x":{"field":"x","type":"quantitative"},"y":{"field":"y","type":"quantitative"},"text":{"field":"t"},
"color":{"field":"tone","type":"nominal","legend":null,"scale":{"domain":["ink","red","blue","purple","black","gold"],"range":["#131722","#f23645","#2962ff","#7e57c2","#000000","#fdd835"]}}}},
{"data":{"name":"priceTags"},"mark":{"type":"rule","strokeWidth":22},
"encoding":{"x":{"field":"a","type":"quantitative"},"x2":{"field":"b"},"y":{"field":"pos","type":"quantitative"},
"color":{"field":"kind","type":"nominal","legend":null}}},
{"data":{"name":"priceTags"},"mark":{"type":"text","fontSize":15,"fill":"white","baseline":"middle"},
"encoding":{"x":{"field":"mid","type":"quantitative"},"y":{"field":"pos","type":"quantitative"},"text":{"field":"label"}}}
]
},
{
"width":1729,"height":96,
"encoding":{
"x":{"field":"i","type":"quantitative","scale":{"domain":[-11.64,350.9],"nice":false,"zero":false},
"axis":{"values":[14,33,51,69,87,104,123,141,159,176,193,212,230,248,278,296,313,332,350],"title":null,"grid":true,"ticks":false,"domain":false,"labelOverlap":false,"labelFlush":false,"labelBound":false,"labelPadding":9,
"labelExpr":"{'14':'Jun','33':'5','51':'10','69':'13','87':'18','104':'22','123':'26','141':'Jul','159':'4','176':'9','193':'13','212':'17','230':'22','248':'25','278':'Aug','296':'6','313':'10','332':'14','350':'19'}[datum.value]",
"labelFontWeight":{"condition":{"test":"datum.value==14||datum.value==141||datum.value==278","value":"bold"},"value":"normal"}}}
},
"layer":[
{"data":{"name":"band"},"mark":{"type":"rect","color":"#7e57c2","opacity":0.1},
"encoding":{"x":{},"y":{"field":"lo","type":"quantitative","scale":{"domain":[19.46,93.3],"nice":false,"zero":false},
"axis":{"orient":"right","values":[80,40],"title":null,"grid":true,"ticks":false,"domain":false,"offset":12,"labelExpr":"datum.value==40?'':format(datum.value,'.2f')"}},"y2":{"field":"hi"}}},
{"data":{"name":"frameBottom"},"mark":{"type":"rule","color":"#f0f3fa","strokeWidth":2},
"encoding":{"x":{"field":"a","type":"quantitative"},"x2":{"field":"b"},"y":{"field":"v","type":"quantitative"}}},
{"data":{"name":"frameLeft"},"mark":{"type":"rule","color":"#f0f3fa","strokeWidth":2},
"encoding":{"x":{"field":"a","type":"quantitative"},"y":{"field":"lo","type":"quantitative"},"y2":{"field":"hi"}}},
{"data":{"name":"bandLines"},"mark":{"type":"rule","strokeWidth":1,"strokeDash":[4,3]},
"encoding":{"x":{},"y":{"field":"v","type":"quantitative"},"color":{"condition":{"test":"datum.v==50","value":"#b2b5be"},"value":"#787b86"}}},
{"data":{"name":"rsi"},"transform":[{"filter":{"field":"i","range":[66.88,72.97]}}],"mark":{"type":"area","color":"#089981","opacity":0.3},
"encoding":{"y":{"field":"v","type":"quantitative"},"y2":{"datum":70}}},
{"data":{"name":"rsiMa"},"mark":{"type":"line","color":"#fdd835","strokeWidth":1.5},"encoding":{"y":{"field":"v","type":"quantitative"}}},
{"data":{"name":"rsi"},"mark":{"type":"line","color":"#7e57c2","strokeWidth":1.2},"encoding":{"y":{"field":"v","type":"quantitative"}}},
{"data":{"name":"rsiText"},"mark":{"type":"text","align":"left","baseline":"middle","fontSize":14.5},
"encoding":{"x":{"field":"x","type":"quantitative"},"y":{"field":"y","type":"quantitative"},"text":{"field":"t"},
"color":{"field":"tone","type":"nominal","legend":null,"scale":{"domain":["ink","purple","gold"],"range":["#131722","#7e57c2","#fdd835"]}}}},
{"data":{"name":"brand"},"mark":{"type":"text","align":"left","baseline":"middle","fontSize":16,"color":"#131722"},
"encoding":{"x":{"field":"x","type":"quantitative"},"y":{"field":"y","type":"quantitative"},"text":{"field":"t"}}},
{"data":{"name":"logo"},"mark":{"type":"point","filled":true,"opacity":1,"color":"#131722","size":576,"shape":"M-1,-0.5 H-0.17 V0.5 H-0.58 V-0.08 H-1 Z M0.28,-0.29 A0.2,0.2 0 1 1 -0.12,-0.29 A0.2,0.2 0 1 1 0.28,-0.29 Z M1,-0.5 L0.45,0.5 H-0.05 L0.5,-0.5 Z"},
"encoding":{"x":{"field":"x","type":"quantitative"},"y":{"field":"y","type":"quantitative"}}},
{"data":{"name":"rsiTags"},"mark":{"type":"rule","strokeWidth":22},
"encoding":{"x":{"field":"a","type":"quantitative"},"x2":{"field":"b"},"y":{"field":"pos","type":"quantitative"},"color":{"field":"kind","type":"nominal","legend":null,"scale":{"domain":["ink","purple","gold"],"range":["#131722","#7e57c2","#fdd835"]}}}},
{"data":{"name":"rsiTags"},"mark":{"type":"text","fontSize":15,"baseline":"middle"},
"encoding":{"x":{"field":"mid","type":"quantitative"},"y":{"field":"pos","type":"quantitative"},"text":{"field":"label"},
"color":{"condition":{"test":"datum.kind=='gold'","value":"#131722"},"value":"white"}}}
]
}
]
}
